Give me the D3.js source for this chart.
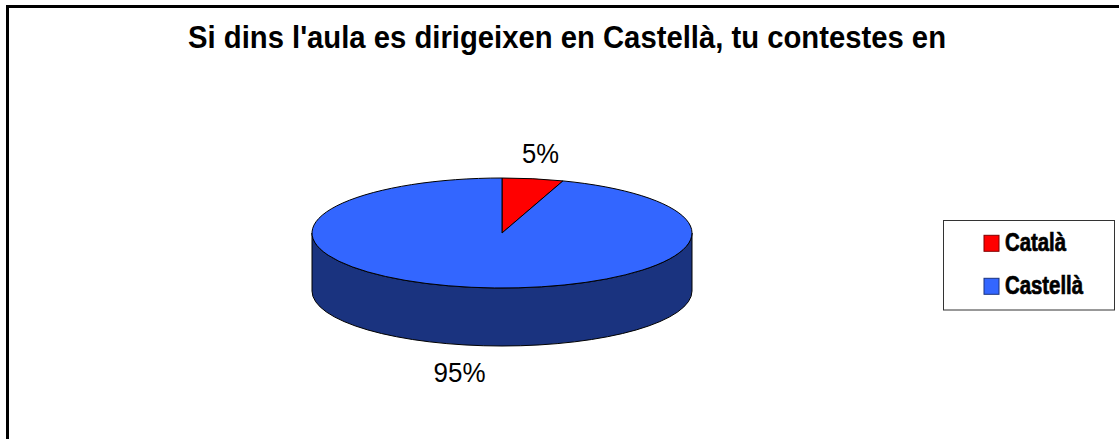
<!DOCTYPE html>
<html><head><meta charset="utf-8">
<script src="https://cdn.jsdelivr.net/npm/d3@7"></script>
<style>html,body{margin:0;padding:0;background:#fff;overflow:hidden}svg{display:block}text{font-family:"Liberation Sans",Arial,sans-serif;fill:#000}</style>
</head><body><svg id="c" width="1119" height="439"></svg>
<script>
const titleText = "Si dins l'aula es dirigeixen en Castellà, tu contestes en";
const categories = ["Català","Castellà"];
const values = [5.2,94.8];
const labels = ["5%","95%"];
const topColors = ["#ff0000","#3366ff"];
const sideColors = ["#800000","#1a337f"];

const svg = d3.select("#c");
svg.append("path").attr("d","M7.5,439V6.5H1119").attr("fill","none").attr("stroke","#000").attr("stroke-width",3);

svg.append("text").attr("x",567).attr("y",48).attr("text-anchor","middle")
  .attr("font-weight","bold").attr("font-size",31).attr("textLength",758).attr("lengthAdjust","spacingAndGlyphs").text(titleText);

const cx=502, cy=233, rx=190, ry=55, depth=58;
const arcs = d3.pie().sort(null)(values);
const arc = d3.arc().innerRadius(0).outerRadius(rx);

svg.append("path")
  .attr("d",`M${cx-rx},${cy}V${cy+depth}A${rx},${ry} 0 0 0 ${cx+rx},${cy+depth}V${cy}A${rx},${ry} 0 0 1 ${cx-rx},${cy}Z`)
  .attr("fill",sideColors[1]).attr("stroke","#000").attr("stroke-width",1);

svg.append("g").attr("transform",`translate(${cx},${cy}) scale(1,${ry/rx})`)
  .selectAll("path").data(arcs).join("path")
  .attr("d",arc).attr("fill",(d,i)=>topColors[i])
  .attr("stroke","#000").attr("stroke-width",1).attr("vector-effect","non-scaling-stroke");

svg.append("text").attr("x",540.5).attr("y",163).attr("text-anchor","middle").attr("font-size",27).attr("textLength",37).attr("lengthAdjust","spacingAndGlyphs").text(labels[0]);
svg.append("text").attr("x",459.5).attr("y",381.5).attr("text-anchor","middle").attr("font-size",27).attr("textLength",52).attr("lengthAdjust","spacingAndGlyphs").text(labels[1]);

svg.append("rect").attr("x",943.5).attr("y",220.5).attr("width",171).attr("height",89.5).attr("fill","#fff").attr("stroke","#333").attr("stroke-width",1);
const ly = d3.scalePoint().domain(categories).range([243.3,286.3]);
const lg = svg.append("g").selectAll("g").data(categories).join("g");
lg.append("rect").attr("x",984).attr("y",d=>ly(d)-8).attr("width",15).attr("height",16)
  .attr("fill",(d,i)=>topColors[i]).attr("stroke",(d,i)=>sideColors[i]).attr("stroke-width",1);
lg.append("text").attr("x",1005).attr("y",d=>ly(d)+8)
  .attr("font-size",25).attr("font-weight","bold")
  .attr("textLength",(d,i)=>[61,78][i]).attr("lengthAdjust","spacingAndGlyphs")
  .attr("stroke","#000").attr("stroke-width",0.7).text(d=>d);
</script></body></html>
